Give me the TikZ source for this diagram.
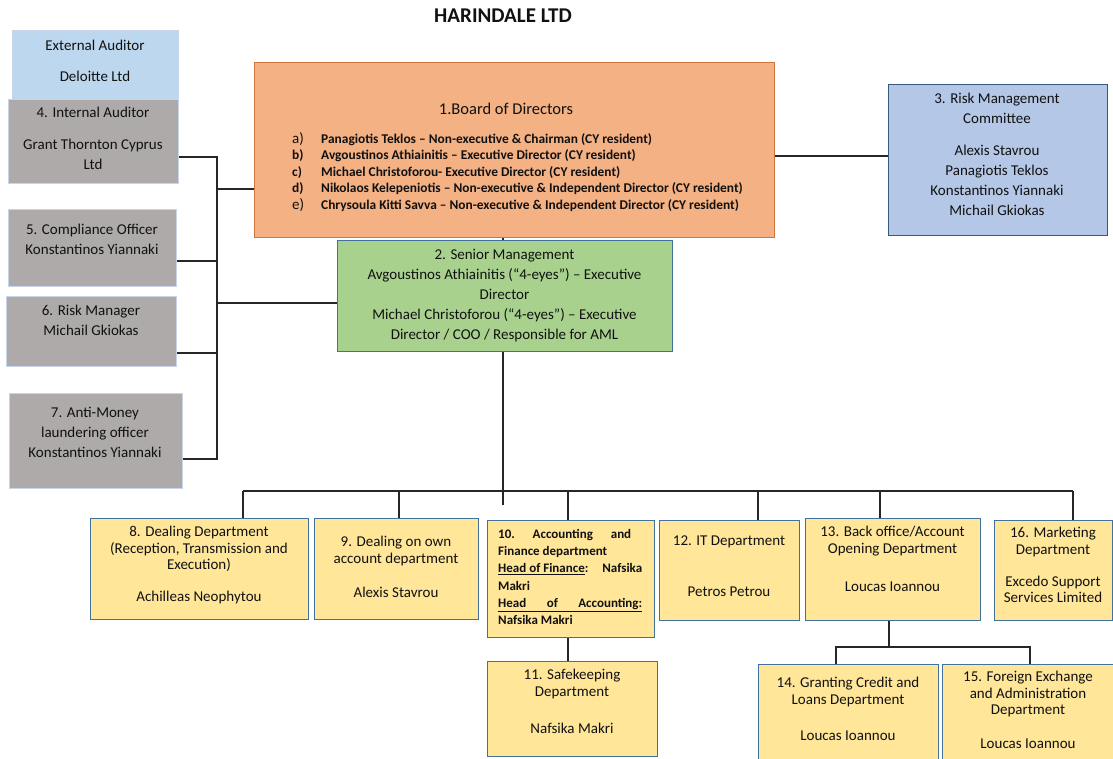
\documentclass[tikz,border=0pt]{standalone}
\usepackage{fontspec}
\setmainfont{Carlito}
\definecolor{extblue}{HTML}{BDD7EE}
\definecolor{grayfill}{HTML}{AEAAAA}
\definecolor{orangefill}{HTML}{F4B183}
\definecolor{greenfill}{HTML}{A9D18E}
\definecolor{rmcfill}{HTML}{B4C7E7}
\definecolor{yellowfill}{HTML}{FFE699}
\definecolor{bluebord}{HTML}{41719C}
\definecolor{orangebord}{HTML}{D0763C}
\definecolor{lightbord}{HTML}{C8D4E8}
\definecolor{linec}{HTML}{262626}
\definecolor{textc}{HTML}{111111}
\tikzset{
  box/.style={anchor=north west, inner sep=0pt, line width=1.3pt},
  ybox/.style={box, draw=bluebord, fill=yellowfill},
  gbox/.style={box, draw=lightbord, fill=grayfill, line width=1pt},
  txt/.style={align=center, inner sep=0pt, anchor=north, text=textc, font=\fontsize{15}{16.5}\selectfont},
  wtxt/.style={txt, font=\fontsize{15}{20}\selectfont},
  conn/.style={draw=linec, line width=1.2pt},
}
\begin{document}
\begin{tikzpicture}[x=1pt,y=-1pt]
\useasboundingbox (0,0) rectangle (1113,758);
\fill[white] (0,0) rectangle (1113,758);
% title
\node[inner sep=0pt, font=\fontsize{21}{24}\selectfont\bfseries, text=textc] (title) at (503,16) {HARINDALE LTD};
% left column
\node[box, draw=lightbord, fill=extblue, line width=1pt, minimum width=166pt, minimum height=73pt] (ext) at (12,30) {};
\node[txt] (extt) at (95,40) {External Auditor\\[14.5pt]Deloitte Ltd};
\node[gbox, minimum width=170pt, minimum height=84pt] (int) at (8,99) {};
\node[wtxt] (intt) at (93,107) {4. Internal Auditor\\[12pt]Grant Thornton Cyprus\\Ltd};
\node[gbox, minimum width=168pt, minimum height=77pt] (comp) at (8,209) {};
\node[wtxt] (compt) at (92,224) {5. Compliance Officer\\Konstantinos Yiannaki};
\node[gbox, minimum width=170pt, minimum height=70pt] (rm) at (6,296) {};
\node[wtxt] (rmt) at (91,305) {6. Risk Manager\\Michail Gkiokas};
\node[gbox, minimum width=173pt, minimum height=95pt] (aml) at (9,393) {};
\node[wtxt] (amlt) at (95,407) {7. Anti-Money\\laundering officer\\Konstantinos Yiannaki};
% board
\node[box, draw=orangebord, fill=orangefill, line width=1pt, minimum width=520pt, minimum height=175pt] (board) at (254,62) {};
\node[inner sep=0pt, text=textc, font=\fontsize{16.5}{18}\selectfont] (boardt) at (506,109) {1.Board of Directors};
\node[inner sep=0pt, anchor=north west, text=textc, font=\fontsize{13.4}{16.5}\selectfont\bfseries, align=left] (boardl) at (292,132) {%
\makebox[29pt][l]{\mdseries\fontsize{15}{16.5}\selectfont a)}Panagiotis Teklos -- Non-executive \& Chairman (CY resident)\\
\makebox[29pt][l]{b)}Avgoustinos Athiainitis -- Executive Director (CY resident)\\
\makebox[29pt][l]{c)}Michael Christoforou- Executive Director (CY resident)\\
\makebox[29pt][l]{d)}Nikolaos Kelepeniotis -- Non-executive \& Independent Director (CY resident)\\
\makebox[29pt][l]{\mdseries\fontsize{15}{16.5}\selectfont e)}Chrysoula Kitti Savva -- Non-executive \& Independent Director (CY resident)};
% risk management committee
\node[box, draw=bluebord!80!black, fill=rmcfill, line width=1.2pt, minimum width=219pt, minimum height=151pt] (rmc) at (888,84) {};
\node[wtxt] (rmct) at (997,93) {3. Risk Management\\Committee\\[12pt]Alexis Stavrou\\Panagiotis Teklos\\Konstantinos Yiannaki\\Michail Gkiokas};
% senior management
\node[box, draw=bluebord, fill=greenfill, line width=1.3pt, minimum width=335pt, minimum height=111pt] (sm) at (337,240) {};
\node[wtxt] (smt) at (504.5,249) {2. Senior Management\\Avgoustinos Athiainitis (“4-eyes”) -- Executive\\Director\\Michael Christoforou (“4-eyes”) -- Executive\\Director / COO / Responsible for AML};
% departments
\node[ybox, minimum width=218pt, minimum height=101pt] (d8) at (90,518) {};
\node[txt] (d8t) at (199,526) {8. Dealing Department\\(Reception, Transmission and\\Execution)\\[15.5pt]Achilleas Neophytou};
\node[ybox, minimum width=164pt, minimum height=101pt] (d9) at (314,518) {};
\node[txt] (d9t) at (396,536) {9. Dealing on own\\account department\\[18pt]Alexis Stavrou};
\node[ybox, minimum width=167pt, minimum height=117pt] (d10) at (487,520) {};
\node[inner sep=0pt, anchor=north west, align=left, text=textc, font=\fontsize{13}{17.3}\selectfont\bfseries] (d10t) at (498,529) {%
\makebox[133pt][s]{10.\hfill Accounting\hfill and}\\
Finance department\\
\makebox[144pt][s]{\underline{Head of Finance}:\hfill Nafsika}\\
Makri\\
\underline{\makebox[144pt][s]{Head\hfill of\hfill Accounting:}}\\
Nafsika Makri};
\node[ybox, minimum width=140pt, minimum height=100pt] (d12) at (659,520) {};
\node[txt] (d12t) at (729,536) {12. IT Department\\[34.5pt]Petros Petrou};
\node[ybox, minimum width=175pt, minimum height=102pt] (d13) at (805,518) {};
\node[txt] (d13t) at (892.5,526) {13. Back office/Account\\Opening Department\\[21.5pt]Loucas Ioannou};
\node[ybox, minimum width=118pt, minimum height=100pt] (d16) at (994,520) {};
\node[txt] (d16t) at (1053,527) {16. Marketing\\Department\\[15.5pt]Excedo Support\\Services Limited};
\node[ybox, minimum width=170pt, minimum height=95pt] (d11) at (487,661) {};
\node[txt] (d11t) at (572,669) {11. Safekeeping\\Department\\[20.5pt]Nafsika Makri};
\node[ybox, minimum width=180pt, minimum height=100pt] (d14) at (758,664) {};
\node[txt] (d14t) at (848,677) {14. Granting Credit and\\Loans Department\\[20pt]Loucas Ioannou};
\node[ybox, minimum width=171pt, minimum height=100pt] (d15) at (942,664) {};
\node[txt] (d15t) at (1028,671) {15. Foreign Exchange\\and Administration\\Department\\[17pt]Loucas Ioannou};
% connector coordinates
\coordinate (lt) at (217,157);
\coordinate (lb) at (217,459);
\coordinate (lboard) at (217,189);
\coordinate (lcomp) at (217,261);
\coordinate (lsm) at (217,303);
\coordinate (lrm) at (217,353);
\coordinate (rb) at (831,156);
\coordinate (smtick) at (503,505);
\coordinate (busl) at (243,491);
\coordinate (busr) at (1073,491);
\coordinate (b9) at (399,491);
\coordinate (b10) at (568,491);
\coordinate (b12) at (758,491);
\coordinate (b13) at (880,491);
\coordinate (j13) at (889,647);
\coordinate (j14) at (836,647);
\coordinate (j15) at (1030,647);
% connectors
\draw[conn] (int.east |- lt) -- (lt) -- (lb) -- (aml.east |- lb);
\draw[conn] (lboard) -- (board.west |- lboard);
\draw[conn] (comp.east |- lcomp) -- (lcomp);
\draw[conn] (rm.east |- lrm) -- (lrm);
\draw[conn] (lsm) -- (sm.west |- lsm);
\draw[conn] (board.east |- rb) -- (rmc.west |- rb);
\draw[conn] (sm.north -| smtick) -- (board.south -| smtick);
\draw[conn] (sm.south -| smtick) -- (smtick);
\draw[conn] (busl) -- (busr);
\draw[conn] (busl) -- (d8.north -| busl);
\draw[conn] (b9) -- (d9.north -| b9);
\draw[conn] (b10) -- (d10.north -| b10);
\draw[conn] (b12) -- (d12.north -| b12);
\draw[conn] (b13) -- (d13.north -| b13);
\draw[conn] (busr) -- (d16.north -| busr);
\draw[conn] (d10.south -| b10) -- (d11.north -| b10);
\draw[conn] (d13.south -| j13) -- (j13);
\draw[conn] (d14.north -| j14) -- (j14) -- (j15) -- (d15.north -| j15);
\end{tikzpicture}
\end{document}
